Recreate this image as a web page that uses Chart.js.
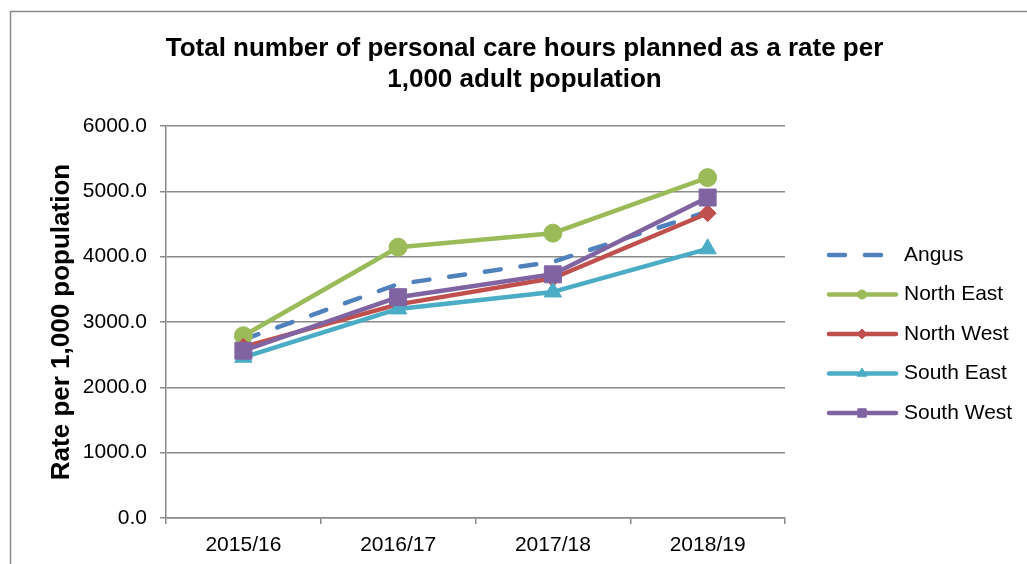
<!DOCTYPE html>
<html>
<head>
<meta charset="utf-8">
<script src="https://cdn.jsdelivr.net/npm/chart.js@4/dist/chart.umd.min.js"></script>
<style>
  html, body { margin: 0; padding: 0; background: #fff; }
  #wrap { position: relative; width: 1027px; height: 564px; }
</style>
</head>
<body>
<div id="wrap"><canvas id="chart" width="1027" height="564"></canvas></div>
<script>
// Chart data
var years     = ['2015/16', '2016/17', '2017/18', '2018/19'];
var angus     = [2730, 3580, 3920, 4690];
var northEast = [2790, 4145, 4360, 5210];
var northWest = [2620, 3270, 3670, 4665];
var southEast = [2460, 3200, 3460, 4120];
var southWest = [2560, 3380, 3730, 4905];

var titleLines = ['Total number of personal care hours planned as a rate per', '1,000 adult population'];
var yTitle     = 'Rate per 1,000 population';

var FONT  = '"Liberation Sans", Arial, sans-serif';
var GRID  = '#8a8a8a';

Chart.defaults.font.family = FONT;
Chart.defaults.color       = '#000';

function series(label, data, color, style, radius, order, dash) {
	return {
		label:            label,
		data:             data,
		borderColor:      color,
		backgroundColor:  color,
		borderWidth:      4.5,
		borderDash:       dash || [],
		borderCapStyle:   'round',
		borderJoinStyle:  'round',
		pointStyle:       style,
		pointRadius:      style ? radius : 0,
		pointHoverRadius: style ? radius : 0,
		pointBorderWidth: 1,
		pointBorderColor: color,
		pointBackgroundColor: color,
		tension:          0,
		order:            order
	};
}

// border round the whole chart, as in the spreadsheet export
var framePlugin = {
	id: 'frame',
	beforeDraw: function(chart) {
		var ctx = chart.ctx;
		ctx.save();
		ctx.fillStyle = '#fff';
		ctx.fillRect(0, 0, chart.width, chart.height);
		ctx.strokeStyle = GRID;
		ctx.lineWidth   = 1.5;
		ctx.strokeRect(10.5, 11.5, 1100, 700);
		ctx.restore();
	}
};

// legend with line + marker glyphs on the right
var legendPlugin = {
	id: 'sideLegend',
	afterDraw: function(chart) {
		var ctx = chart.ctx;
		var legendRadius = {circle: 4.5, rectRot: 5, triangle: 5.5, rect: 6};
		ctx.save();
		ctx.font         = '21px ' + FONT;
		ctx.textBaseline = 'middle';
		chart.data.datasets.forEach(function(ds, i) {
			var y = 255 + i * 39.5;
			ctx.save();
			ctx.strokeStyle = ds.borderColor;
			ctx.lineWidth   = ds.borderWidth;
			ctx.lineCap     = 'round';
			ctx.setLineDash(ds.borderDash);
			ctx.beginPath();
			ctx.moveTo(829, y);
			ctx.lineTo(896, y);
			ctx.stroke();
			ctx.restore();
			if (ds.pointRadius > 0) {
				ctx.fillStyle   = ds.borderColor;
				ctx.strokeStyle = ds.borderColor;
				Chart.helpers.drawPoint(ctx, {pointStyle: ds.pointStyle, radius: legendRadius[ds.pointStyle], rotation: 0, borderWidth: 1}, 862, y);
			}
			ctx.fillStyle = '#000';
			ctx.fillText(ds.label, 904, y);
		});
		ctx.restore();
	}
};

new Chart(document.getElementById('chart').getContext('2d'), {
	type: 'line',
	data: {
		labels: years,
		datasets: [
			series('Angus',      angus,     '#4F81BD', null,       0,  4, [16, 20]),
			series('North East', northEast, '#9BBB59', 'circle',   9,  3),
			series('North West', northWest, '#C0504D', 'rectRot',  8.5, 2),
			series('South East', southEast, '#4BACC6', 'triangle', 10, 1),
			series('South West', southWest, '#8064A2', 'rect',     12, 0)
		]
	},
	options: {
		responsive: false,
		animation:  false,
		layout: {padding: {left: 22, right: 0, top: 0, bottom: 0}},
		plugins: {
			legend:  {display: false},
			tooltip: {enabled: false},
			title: {
				display: true,
				text:    titleLines,
				color:   '#000',
				font:    {size: 26, weight: 'bold', lineHeight: 1.2},
				padding: {top: 33.5, bottom: 30.1}
			}
		},
		scales: {
			x: {
				offset: true,
				grid: {display: true, drawOnChartArea: false, drawTicks: true, tickLength: 6, offset: true, color: GRID, lineWidth: 1.5},
				border: {display: true, color: GRID, width: 1.5},
				ticks: {font: {size: 21}, padding: 9, color: '#000', maxRotation: 0},
				afterFit: function(scale) { scale.height = 46; }
			},
			y: {
				min: 0,
				max: 6000,
				grid: {color: GRID, lineWidth: 1.5, tickLength: 6},
				border: {display: true, color: GRID, width: 1.5},
				ticks: {
					stepSize: 1000,
					font:     {size: 21},
					padding:  13,
					color:    '#000',
					callback: function(v) { return Number(v).toFixed(1); }
				},
				title: {
					display: true,
					text:    yTitle,
					color:   '#000',
					font:    {size: 26, weight: 'bold', lineHeight: 1.2},
					padding: {top: 24, bottom: 0}
				},
				afterFit: function(scale) { scale.width = 144; }
			},
			// empty axis that keeps room for the legend on the right
			yr: {
				position: 'right',
				display:  true,
				grid:     {display: false},
				border:   {display: false},
				ticks:    {display: false},
				afterFit: function(scale) { scale.width = 242; }
			}
		}
	},
	plugins: [framePlugin, legendPlugin]
});
</script>
</body>
</html>
